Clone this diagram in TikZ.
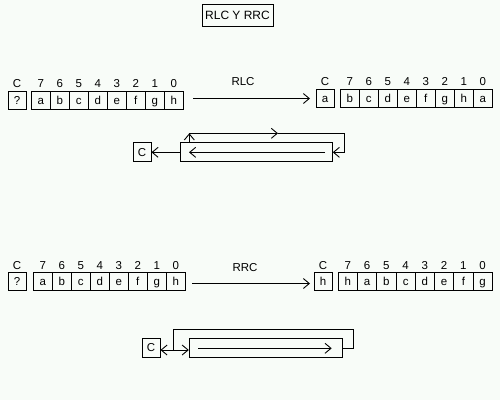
\documentclass[tikz,border=0pt]{standalone}
\usepackage{fontspec}
\setmainfont{Liberation Sans}
\usetikzlibrary{arrows.meta}
\definecolor{bgc}{RGB}{248,252,248}
\begin{document}
\begin{tikzpicture}[x=1pt,y=-1pt,
  >={Straight Barb[length=6pt,width=10pt]},
  every path/.style={line width=0.9pt},
  txt/.style={inner sep=0pt,text height=8.2pt,text depth=0pt,font=\fontsize{11.5}{12}\selectfont},
  cell/.style={txt,draw,minimum width=19pt,minimum height=18pt},
  cbox/.style={txt,draw,minimum width=18pt,minimum height=18pt},
  lbl/.style={txt},
  bigbox/.style={draw,inner sep=0pt,minimum height=19pt}]
\fill[bgc] (0,0) rectangle (500,400);
\useasboundingbox (0,0) rectangle (500,400);
% title
\node[draw,inner sep=0pt,minimum width=71pt,minimum height=22pt,text height=8.6pt,text depth=0pt,font=\fontsize{12}{13}\selectfont] (title) at (237.5,15) {RLC Y RRC};

% ---------- row 1 left
\node[cbox] (c1l) at (17,100) {?};
\node[lbl] (c1lt) at (17,83) {C};
\foreach \t/\b [count=\i from 0] in {a/7,b/6,c/5,d/4,e/3,f/2,g/1,h/0}{
  \node[cell] (r1l\i) at ({31.3+9.5+19*\i},100) {\t};
  \node[lbl] (r1lt\i) at ({31.3+9.5+19*\i},83) {\b};
}
% ---------- row 1 right
\node[cbox] (c1r) at (325,98) {a};
\node[lbl] (c1rt) at (325,81.5) {C};
\foreach \t/\b [count=\i from 0] in {b/7,c/6,d/5,e/4,f/3,g/2,h/1,a/0}{
  \node[cell] (r1r\i) at ({340.3+9.5+19*\i},98) {\t};
  \node[lbl] (r1rt\i) at ({340.3+9.5+19*\i},81.5) {\b};
}
\coordinate (a1s) at (193,98.5);
\coordinate (a1e) at (310,98.5);
\draw[->] (a1s) -- (a1e);
\node[lbl] (rlc) at (243,81.5) {RLC};

% ---------- row 1 bottom
\node[cbox,minimum height=19pt] (cb1) at (142,152.3) {C};
\node[bigbox,minimum width=152pt] (bb1) at (256.3,152.3) {};
\draw[->] (bb1.west) -- (cb1.east);
\coordinate (i1s) at (325,152.3);
\coordinate (i1e) at (189,152.3);
\draw[->] (i1s) -- (i1e);
\coordinate (l1a) at (189.3,143);
\coordinate (l1b) at (189.3,133.3);
\coordinate (l1m) at (278,133.3);
\coordinate (l1c) at (344,133.3);
\coordinate (l1d) at (344,152.3);
\draw[->] (l1a) -- (l1b);
\draw[->] (l1b) -- (l1m);
\draw[->] (l1m) -- (l1c) -- (l1d) -- (bb1.east);

% ---------- row 2 left
\node[cbox] (c2l) at (17,281) {?};
\node[lbl] (c2lt) at (17,265) {C};
\foreach \t/\b [count=\i from 0] in {a/7,b/6,c/5,d/4,e/3,f/2,g/1,h/0}{
  \node[cell] (r2l\i) at ({33.3+9.5+19*\i},281) {\t};
  \node[lbl] (r2lt\i) at ({33.3+9.5+19*\i},265) {\b};
}
% ---------- row 2 right
\node[cbox] (c2r) at (323,281) {h};
\node[lbl] (c2rt) at (323,265) {C};
\foreach \t/\b [count=\i from 0] in {h/7,a/6,b/5,c/4,d/3,e/2,f/1,g/0}{
  \node[cell,minimum width=19.25pt] (r2r\i) at ({338.3+9.625+19.25*\i},281) {\t};
  \node[lbl] (r2rt\i) at ({338.3+9.625+19.25*\i},265) {\b};
}
\coordinate (a2s) at (192,283.5);
\coordinate (a2e) at (310,283.5);
\draw[->] (a2s) -- (a2e);
\node[lbl] (rrc) at (245,267.5) {RRC};

% ---------- row 2 bottom
\node[cbox,minimum height=19pt] (cb2) at (151,347.8) {C};
\node[bigbox,minimum width=152.7pt] (bb2) at (265.6,347.8) {};
\draw[<->] (cb2.east |- 0,350) -- (bb2.west |- 0,350);
\coordinate (l2a) at (173.3,350);
\coordinate (l2b) at (173.3,329.3);
\coordinate (l2c) at (353.3,329.3);
\coordinate (l2d) at (353.3,348.3);
\draw (l2a) -- (l2b) -- (l2c) -- (l2d) -- (bb2.east |- l2d);
\coordinate (i2s) at (198.3,348.3);
\coordinate (i2e) at (331.7,348.3);
\draw[->] (i2s) -- (i2e);
\end{tikzpicture}
\end{document}
